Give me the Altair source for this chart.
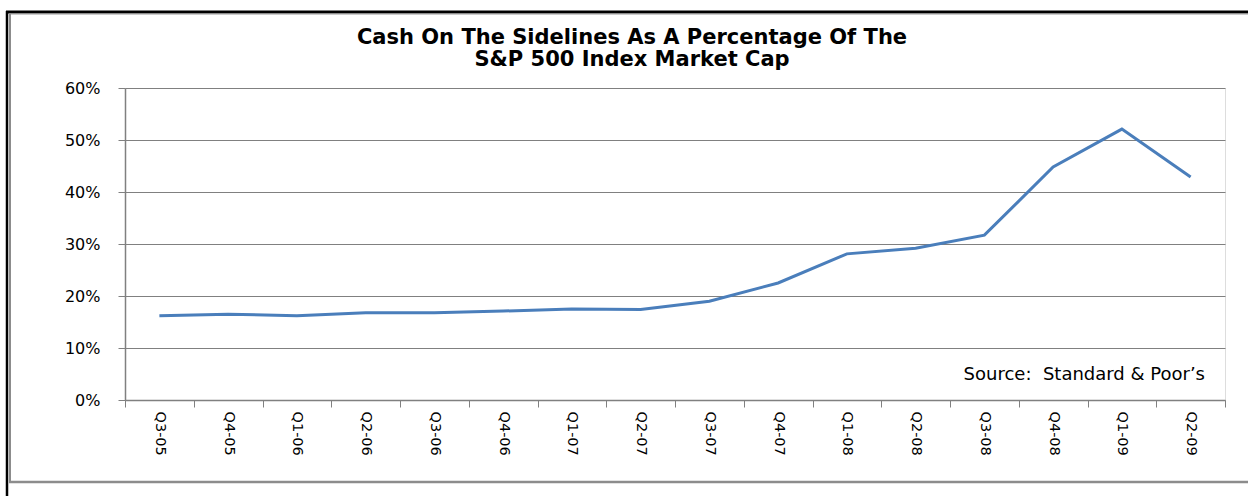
import altair as alt
import pandas as pd

quarters = ["Q3-05", "Q4-05", "Q1-06", "Q2-06", "Q3-06", "Q4-06", "Q1-07", "Q2-07",
            "Q3-07", "Q4-07", "Q1-08", "Q2-08", "Q3-08", "Q4-08", "Q1-09", "Q2-09"]
cash_pct = [16.2, 16.5, 16.2, 16.8, 16.8, 17.1, 17.5, 17.4,
            19.0, 22.5, 28.1, 29.2, 31.7, 44.8, 52.1, 42.9]
y_ticks = [0, 0.1, 0.2, 0.3, 0.4, 0.5, 0.6]
title_line1 = "Cash On The Sidelines As A Percentage Of The"
title_line2 = "S&P 500 Index Market Cap"
source_text = "Source:\u00a0 Standard & Poor\u2019s"

df = pd.DataFrame({"quarter": quarters, "value": [v / 100 for v in cash_pct]})
one = pd.DataFrame({"a": [0]})

GRAY = "#808080"
FONT = "DejaVu Sans"

line = alt.Chart(df).mark_line(color="#4a7ebb", strokeWidth=3).encode(
    x=alt.X("quarter:N", sort=quarters, bandPosition=0.5,
            scale=alt.Scale(type="band", paddingInner=0, paddingOuter=0),
            axis=alt.Axis(title=None, labelAngle=90, tickBand="extent", tickSize=7,
                          tickColor=GRAY, domainColor=GRAY, domainWidth=1.5,
                          labelFont=FONT, labelFontSize=14.5, labelColor="black",
                          labelPadding=4, grid=False)),
    y=alt.Y("value:Q", scale=alt.Scale(domain=[0, 0.6]),
            axis=alt.Axis(title=None, values=y_ticks, format=".0%", tickSize=7,
                          tickColor=GRAY, domainColor=GRAY, domainWidth=1.5,
                          gridColor=GRAY, gridWidth=1, labelFont=FONT,
                          labelFontSize=16, labelColor="black", labelPadding=18)),
)

source = alt.Chart(one).mark_text(align="right", baseline="middle", font=FONT,
                                  fontSize=18, color="black").encode(
    x=alt.value(1080), y=alt.value(287), text=alt.value(source_text))

title1 = alt.Chart(one).mark_text(align="center", baseline="alphabetic", font=FONT,
                                  fontSize=21, fontWeight="bold", color="black").encode(
    x=alt.value(507), y=alt.value(-44), text=alt.value(title_line1))
title2 = alt.Chart(one).mark_text(align="center", baseline="alphabetic", font=FONT,
                                  fontSize=21, fontWeight="bold", color="black").encode(
    x=alt.value(507), y=alt.value(-22), text=alt.value(title_line2))

frame_top = alt.Chart(one).mark_rule(color="black", strokeWidth=3).encode(
    x=alt.value(-119), x2=alt.value(1125), y=alt.value(-76))
frame_top2 = alt.Chart(one).mark_rule(color="#9a9a9a", strokeWidth=1).encode(
    x=alt.value(-116), x2=alt.value(1125), y=alt.value(-74))
frame_left = alt.Chart(one).mark_rule(color="black", strokeWidth=2.5).encode(
    x=alt.value(-118), y=alt.value(-77), y2=alt.value(410))
frame_left2 = alt.Chart(one).mark_rule(color="#8c8c8c", strokeWidth=2).encode(
    x=alt.value(-115), y=alt.value(-74), y2=alt.value(395))
frame_bottom = alt.Chart(one).mark_rule(color="#8c8c8c", strokeWidth=2.5).encode(
    x=alt.value(-116), x2=alt.value(1125), y=alt.value(394))

chart = alt.layer(line, source, title1, title2, frame_top, frame_top2, frame_left,
                  frame_left2, frame_bottom).properties(
    width=1100, height=312,
    autosize=alt.AutoSizeParams(type="none"),
    padding={"left": 125, "top": 88, "right": 23, "bottom": 96},
).configure_view(strokeWidth=0).configure(background="white")

chart.save("out.html", embed_options={"renderer": "svg", "actions": False})
